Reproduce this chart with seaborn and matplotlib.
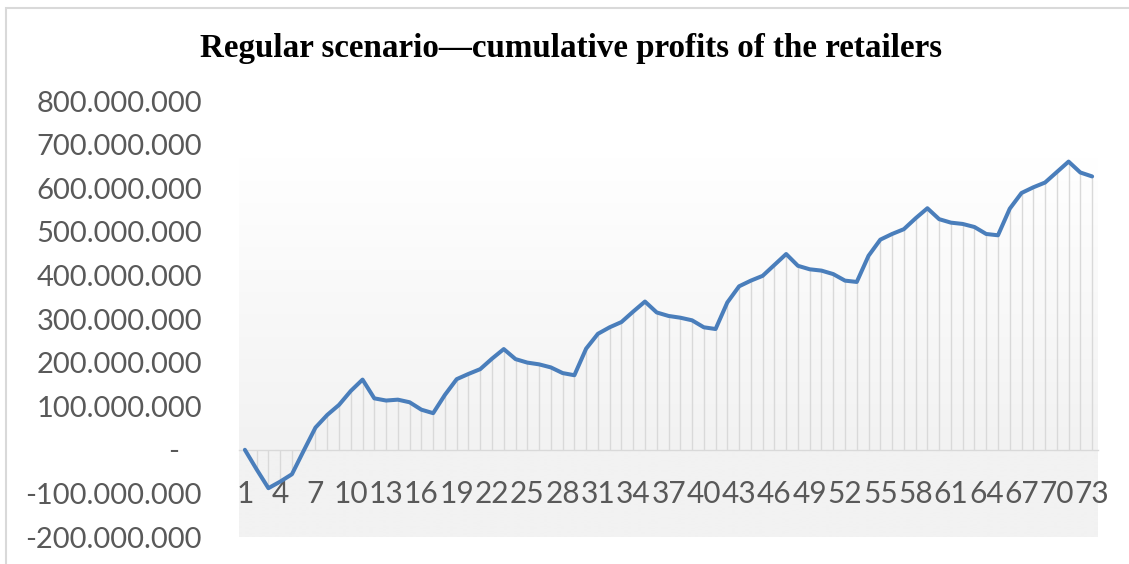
import numpy as np
import pandas as pd
import matplotlib
matplotlib.use("Agg")
import matplotlib.pyplot as plt
import seaborn as sns
from matplotlib.patches import Rectangle
from matplotlib.colors import LinearSegmentedColormap

# ---- data (millions) ----
periods = list(range(1, 74))
profits_m = [0, -45, -88, -73, -56, -2, 51, 80, 103, 135,
             161, 118, 113, 115, 109, 92, 84, 126, 162, 174,
             185, 209, 231, 208, 200, 196, 189, 176, 171, 232,
             266, 281, 293, 317, 340, 315, 307, 303, 297, 281,
             277, 338, 375, 388, 399, 424, 449, 422, 414, 411,
             403, 388, 385, 445, 482, 495, 506, 531, 554, 529,
             521, 518, 511, 495, 492, 553, 589, 602, 613, 637,
             661, 636, 627]
y_ticks_m = [-200, -100, 0, 100, 200, 300, 400, 500, 600, 700, 800]
title = "Regular scenario\u2014cumulative profits of the retailers"

profits = np.array(profits_m) * 1e6
df = pd.DataFrame({"idx": np.arange(len(periods)), "profit": profits})

sns.set_theme(style="white")
plt.rcParams["font.family"] = ["Lato", "DejaVu Sans"]

W, H = 1129, 564
fig = plt.figure(figsize=(W / 100, H / 100), dpi=100)
fig.patch.set_facecolor("white")

# outer chart border (partly cropped)
fig.add_artist(Rectangle((6 / W, -0.1), 1.2, (H - 8) / H + 0.1, transform=fig.transFigure,
                         fill=False, edgecolor="#d9d9d9", linewidth=1.5))

left, right = 239 / W, 1098 / W
bottom, top = 1 - 537 / H, 1 - 101 / H
ax = fig.add_axes([left, bottom, right - left, top - bottom])
ax.set_facecolor("none")

n = len(periods)
ax.set_xlim(-0.5, n - 0.5)
ax.set_ylim(-200e6, 800e6)

# gradient plot-area background
grad_top = 670e6
ys = np.linspace(grad_top, -200e6, 400)
vals = np.clip(ys / grad_top, 0, 1)[:, None]
cmap = LinearSegmentedColormap.from_list("g", ["#f2f2f2", "#ffffff"])
ax.imshow(vals, extent=(-0.5, n - 0.5, -200e6, grad_top), aspect="auto",
          cmap=cmap, vmin=0, vmax=1, zorder=0, interpolation="bilinear")

# drop lines
ax.vlines(df["idx"], 0, df["profit"], color="#d9d9d9", linewidth=1.0, zorder=1)

sns.lineplot(data=df, x="idx", y="profit", ax=ax, color="#4a7ebb",
             linewidth=2.9, zorder=3, legend=False)
ax.set_xlim(-0.5, n - 0.5)
ax.set_ylim(-200e6, 800e6)

# axes styling
for s in ["top", "right", "left"]:
    ax.spines[s].set_visible(False)
ax.spines["bottom"].set_position(("data", 0))
ax.spines["bottom"].set_color("#d9d9d9")
ax.spines["bottom"].set_linewidth(1.0)
ax.spines["bottom"].set_zorder(2)

xt = list(range(0, n, 3))
ax.set_xticks(xt)
ax.set_xticklabels([str(periods[i]) for i in xt])
ax.set_yticks([v * 1e6 for v in y_ticks_m])

def fmt(v):
    if v == 0:
        return "-   "
    s = f"{abs(v) * 1000000:,}".replace(",", ".")
    return ("-" if v < 0 else "") + s

ax.set_yticklabels([fmt(v) for v in y_ticks_m])
ax.tick_params(axis="x", length=0, pad=22, labelsize=21.5, labelcolor="#595959")
ax.tick_params(axis="y", length=0, pad=37 * 0.72, labelsize=21, labelcolor="#595959")
ax.set_xlabel("")
ax.set_ylabel("")
ax.grid(False)

fig.text(571 / W, 1 - 48 / H, title, ha="center", va="center",
         fontsize=23.8, fontweight="bold", family="Liberation Serif", color="black")

fig.savefig("out.png", dpi=100, facecolor="white")
